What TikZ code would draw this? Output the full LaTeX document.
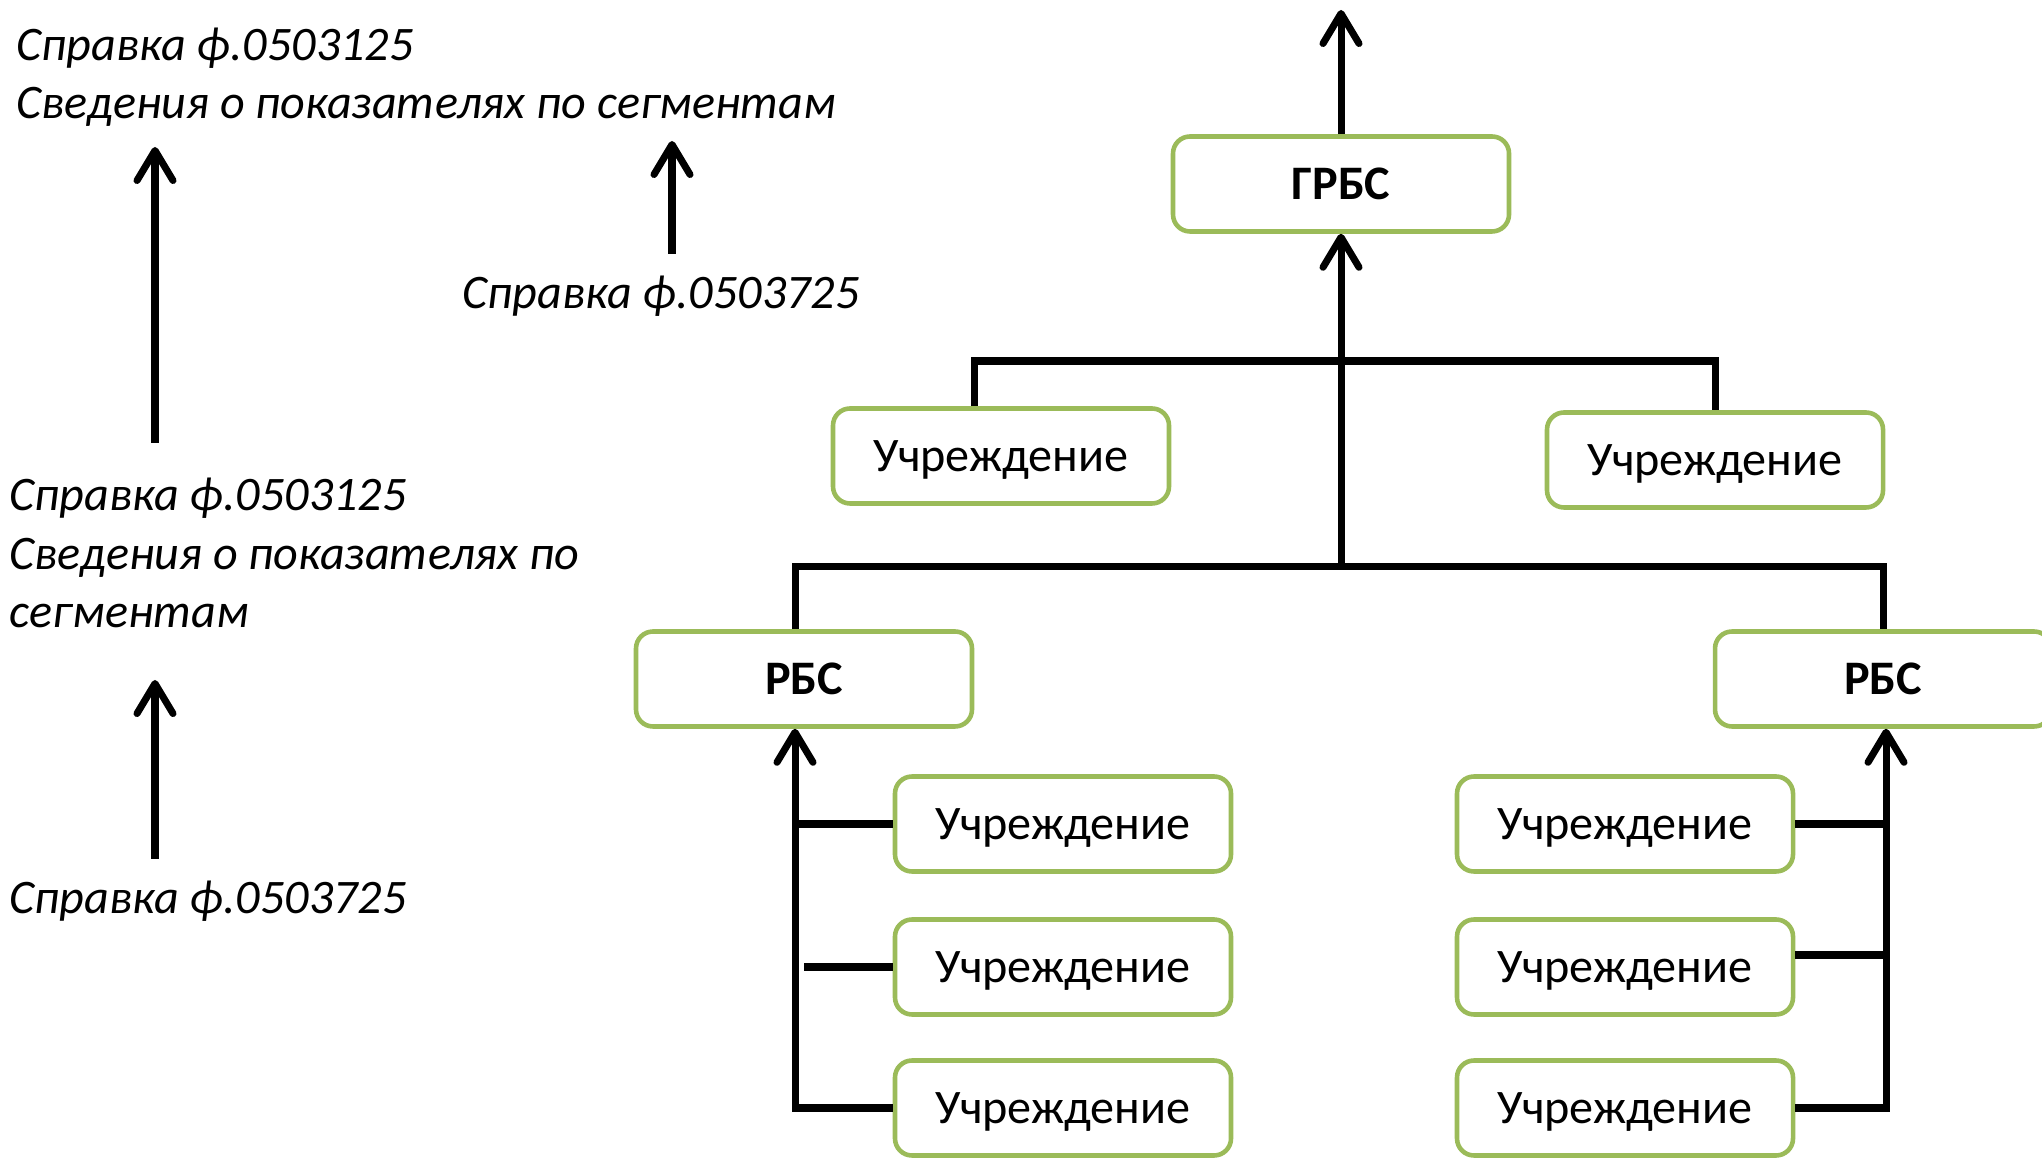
\documentclass[tikz,border=0pt]{standalone}
\usepackage{fontspec}
\setmainfont{Carlito}
\usetikzlibrary{arrows.meta}
\definecolor{boxgreen}{RGB}{155,187,89}

\begin{document}
\begin{tikzpicture}[
    box/.style={draw=boxgreen, line width=1.3pt, rounded corners=0.17cm, fill=white,
        minimum width=3.36cm, minimum height=0.95cm, inner sep=0pt, text depth=0pt,
        font=\fontsize{13.7}{16}\selectfont},
    bus/.style={line width=2pt},
    upar/.style={line width=2pt, -{Straight Barb[length=0.3cm, width=0.36cm, round]}},
    note/.style={anchor=west, align=left, inner sep=0pt,
        font=\fontsize{13.7}{16.6}\selectfont\itshape}]
\useasboundingbox (0,0) rectangle (20.42,11.58);

% top level
\node[box, font=\fontsize{13.7}{16}\selectfont\bfseries] (grbs) at (13.41,9.74) {ГРБС};
\coordinate (top) at (13.41,11.48);
\draw[upar] (grbs.north) -- (top);

% institutions right under GRBS
\node[box] (u1) at (10.01,7.02) {Учреждение};
\node[box] (u2) at (17.15,6.98) {Учреждение};

% RBS level
\node[box, font=\fontsize{13.7}{16}\selectfont\bfseries] (rbsl) at (8.04,4.79) {РБС};
\node[box, font=\fontsize{13.7}{16}\selectfont\bfseries] (rbsr) at (18.83,4.79) {РБС};

% institutions under each RBS
\foreach \y [count=\i] in {3.34,1.91,0.50} {
    \node[box] (l\i) at (10.63,\y) {Учреждение};
    \node[box] (r\i) at (16.25,\y) {Учреждение};
}

% buses up to GRBS
\coordinate (hub1) at (13.41,7.97);
\coordinate (hub2) at (13.41,5.915);
\draw[bus] ([xshift=-0.27cm]u1.north) |- (hub1) -| (u2.north);
\draw[bus] ([xshift=-0.09cm]rbsl.north) |- (hub2) -| (rbsr.north);
\draw[upar] (hub2) -- (grbs.south);

% left RBS branch
\coordinate (lax) at ([xshift=-0.09cm]rbsl.south);
\draw[upar] (l3.west) -| (lax);
\draw[bus] (l1.west) -- (l1.west -| lax);
\draw[bus] (l2.west) -- ([xshift=0.09cm]l2.west -| lax);

% right RBS branch
\coordinate (rax) at ([xshift=0.03cm]rbsr.south);
\draw[upar] (r3.east) -| (rax);
\draw[bus] (r1.east) -- (r1.east -| rax);
\draw[bus] ([yshift=0.12cm]r2.east) -- ([yshift=0.12cm]r2.east -| rax);

% reports on the left
\node[note] (n1) at (0.16,10.81) {Справка ф.0503125\\Сведения о показателях по сегментам};
\node[note] (n2) at (4.62,8.62) {Справка ф.0503725};
\node[note] (n3) at (0.09,6.05) {Справка ф.0503125\\Сведения о показателях по\\сегментам};
\node[note] (n4) at (0.09,2.57) {Справка ф.0503725};

\coordinate (a1s) at (1.55,7.15);
\coordinate (a1e) at (1.55,10.11);
\coordinate (a2s) at (6.72,9.04);
\coordinate (a2e) at (6.72,10.17);
\coordinate (a3s) at (1.55,2.99);
\coordinate (a3e) at (1.55,4.78);
\draw[upar] (a1s) -- (a1e);
\draw[upar] (a2s) -- (a2e);
\draw[upar] (a3s) -- (a3e);
\end{tikzpicture}
\end{document}
